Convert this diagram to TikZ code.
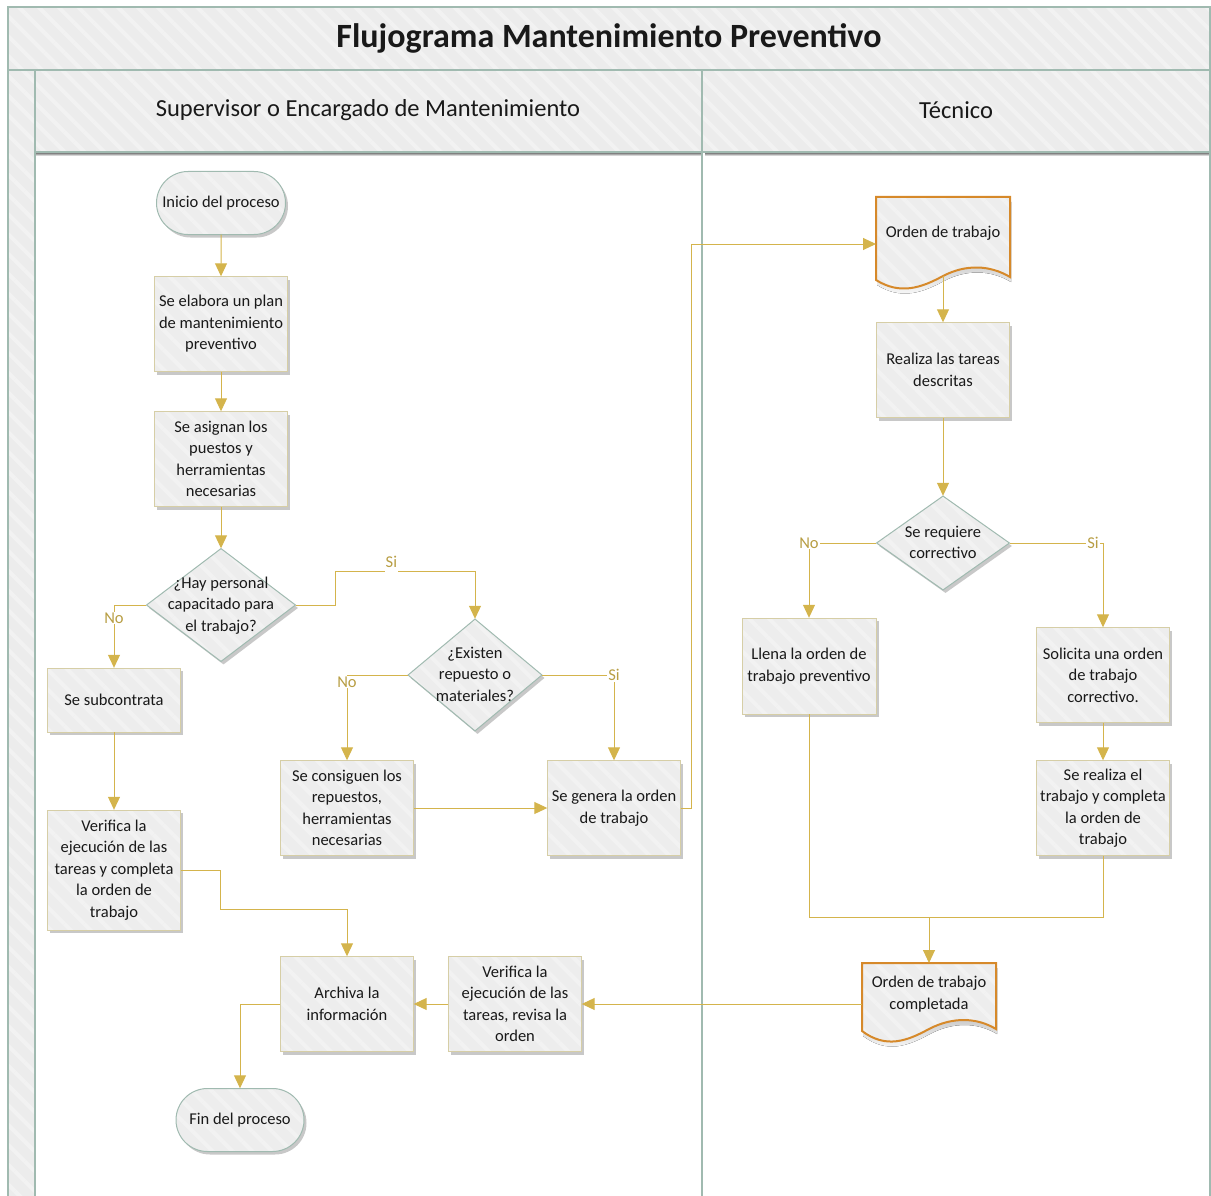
\documentclass[tikz,border=0pt]{standalone}
\usepackage{fontspec}
\setmainfont{Carlito}
\usetikzlibrary{shapes.geometric,shapes.misc,arrows.meta,shadows,patterns.meta,calc}

\definecolor{laneline}{RGB}{160,186,176}
\definecolor{bandfill}{RGB}{236,236,236}
\definecolor{stripe}{RGB}{242,242,242}
\definecolor{boxfill}{RGB}{237,237,237}
\definecolor{boxline}{RGB}{214,206,166}
\definecolor{flow}{RGB}{212,180,76}
\definecolor{flowtext}{RGB}{184,158,68}
\definecolor{docline}{RGB}{214,137,42}
\definecolor{shade}{RGB}{200,200,200}
\definecolor{ink}{RGB}{25,25,25}

% text for fixed-size diamonds: zero-size box so the shape keeps its dimensions
\newcommand{\dtext}[1]{\smash{\makebox[0pt]{\raisebox{-5pt}{\begin{tabular}{@{}c@{}}#1\end{tabular}}}}}

\begin{document}
\begin{tikzpicture}[x=1pt,y=-1pt,
  every node/.style={font=\fontsize{16.5}{21.5}\selectfont, text=ink},
  striped/.style={postaction={pattern={Lines[angle=-45,distance=14pt,line width=4pt]},pattern color=stripe}},
  band/.style={fill=bandfill, striped},
  lane/.style={draw=laneline, line width=2pt},
  soft/.style={drop shadow={shadow xshift=2.5pt,shadow yshift=-3pt,fill=shade,opacity=1}},
  proc/.style={rectangle, fill=boxfill, soft, striped, postaction={draw=boxline, line width=1pt},
    minimum width=133pt, minimum height=95pt, align=center, inner sep=2pt},
  term/.style={rounded rectangle, fill=boxfill, soft, striped, postaction={draw=laneline, line width=1pt},
    minimum width=133pt, minimum height=63pt, align=center, inner sep=2pt},
  decision/.style={diamond, fill=boxfill, soft, striped, postaction={draw=laneline, line width=1pt}, inner sep=0pt},
  conn/.style={draw=flow, line width=1pt, -{Triangle[width=12pt,length=13pt]}},
  link/.style={draw=flow, line width=1pt},
  lbl/.style={fill=white, text=flowtext, inner xsep=1pt, inner ysep=1pt},
]
\useasboundingbox (0,0) rectangle (1211,1196);

% ---- pool and lanes ----
\path[band] (8,7) rectangle (1210,70);
\path[band] (35,70) rectangle (1210,152);
\path[band] (8,70) rectangle (35,1196);
\fill[shade] (36,153) rectangle (701,156);
\fill[shade] (705,153) rectangle (1209,156);
\draw[lane] (8,1196) -- (8,7) -- (1210,7) -- (1210,1196);
\draw[lane] (8,70) -- (1210,70);
\draw[lane] (35,70) -- (35,1196);
\draw[lane] (35,152) -- (1210,152);
\draw[lane] (702,70) -- (702,1196);

\node[font=\fontsize{34}{40}\selectfont\bfseries] (title) at (609,38) {Flujograma Mantenimiento Preventivo};
\node[font=\fontsize{24.5}{30}\selectfont] (lane1) at (368,110) {Supervisor o Encargado de Mantenimiento};
\node[font=\fontsize{24.5}{30}\selectfont] (lane2) at (956,110) {Técnico};

% ---- supervisor lane ----
\node[term] (ini) at (221,203) {Inicio del proceso};
\node[proc] (plan) at (221,324) {Se elabora un plan\\de mantenimiento\\preventivo};
\node[proc] (asig) at (221,459) {Se asignan los\\puestos y\\herramientas\\necesarias};
\node[decision, minimum width=149pt, minimum height=113pt] (hay) at (221,605)
  {\dtext{¿Hay personal\\capacitado para\\el trabajo?}};
\node[proc, minimum height=64pt] (sub) at (114,700) {Se subcontrata};
\node[proc, minimum height=120pt] (ver1) at (114,870) {Verifica la\\ejecución de las\\tareas y completa\\la orden de\\trabajo};
\node[decision, minimum width=134pt, minimum height=112pt] (exi) at (475,675)
  {\dtext{¿Existen\\repuesto o\\materiales?}};
\node[proc] (cons) at (347,808) {Se consiguen los\\repuestos,\\herramientas\\necesarias};
\node[proc] (gen) at (614,808) {Se genera la orden\\de trabajo};
\node[proc] (arch) at (347,1004) {Archiva la\\información};
\node[proc] (ver2) at (515,1004) {Verifica la\\ejecución de las\\tareas, revisa la\\orden};
\node[term, minimum width=132pt] (fin) at (240,1120) {Fin del proceso};

% ---- technician lane ----
\begin{scope}[shift={(876,197)}]
  \begin{scope}[shift={(1,5)}]
    \fill[shade] (0,0) -- (134,0) -- (134,80) .. controls (114,68) and (90,67) .. (67,79)
      .. controls (45,91) and (24,98) .. (0,83) -- cycle;
  \end{scope}
  \path[fill=boxfill, striped, postaction={draw=docline, line width=2pt}]
    (0,0) -- (134,0) -- (134,80) .. controls (114,68) and (90,67) .. (67,79)
      .. controls (45,91) and (24,98) .. (0,83) -- cycle;
  \coordinate (od1-w) at (0,47);
  \coordinate (od1-s) at (67,79);
  \node (od1) at (67,36) {Orden de trabajo};
\end{scope}

\node[proc] (real) at (943,370) {Realiza las tareas\\descritas};
\node[decision, minimum width=133pt, minimum height=94pt] (req) at (943,543)
  {\dtext{Se requiere\\correctivo}};
\node[proc, minimum width=134pt, minimum height=96pt] (llena) at (809,666) {Llena la orden de\\trabajo preventivo};
\node[proc] (sol) at (1103,675) {Solicita una orden\\de trabajo\\correctivo.};
\node[proc] (serea) at (1103,808) {Se realiza el\\trabajo y completa\\la orden de\\trabajo};

\begin{scope}[shift={(862,963)}]
  \begin{scope}[shift={(1,5)}]
    \fill[shade] (0,0) -- (134,0) -- (134,66) .. controls (114,54) and (90,54) .. (67,66)
      .. controls (45,78) and (24,86) .. (0,68) -- cycle;
  \end{scope}
  \path[fill=boxfill, striped, postaction={draw=docline, line width=2pt}]
    (0,0) -- (134,0) -- (134,66) .. controls (114,54) and (90,54) .. (67,66)
      .. controls (45,78) and (24,86) .. (0,68) -- cycle;
  \coordinate (od2-w) at (0,41);
  \coordinate (od2-n) at (67,0);
  \node[align=center] (od2) at (67,31) {Orden de trabajo\\completada};
\end{scope}

\coordinate (merge) at (929,917);

% ---- connectors ----
\draw[conn] (ini) -- (plan);
\draw[conn] (plan) -- (asig);
\draw[conn] (asig) -- (hay);
\draw[conn] (hay.west) -| node[lbl, pos=0.5, yshift=-13pt] {No} (sub.north);
\draw[conn] (hay.east) -- ++(40,0) |- node[lbl, pos=0.7, anchor=base, yshift=4.5pt, inner ysep=5pt] {Si}
  ([yshift=47pt]exi.north) -- (exi.north);
\draw[conn] (exi.west) -| node[lbl, pos=0.5, yshift=-7pt] {No} (cons.north);
\draw[conn] (exi.east) -| node[lbl, pos=0.5] {Si} (gen.north);
\draw[conn] (cons) -- (gen);
\draw[conn] (gen.east) -- ++(11,0) |- (od1-w);
\draw[conn] (sub) -- (ver1);
\draw[conn] (ver1.east) -- ++(40,0) |- ([yshift=47pt]arch.north) -- (arch.north);
\draw[conn] (od1-s) -- (real);
\draw[conn] (real) -- (req);
\draw[conn] (req.west) -| node[lbl, pos=0.5] {No} (llena.north);
\draw[conn] (req.east) -| node[lbl, pos=0.5, xshift=-10pt] {Si} (sol.north);
\draw[conn] (sol) -- (serea);
\draw[link] (llena.south) |- (merge);
\draw[link] (serea.south) |- (merge);
\draw[conn] (merge) -- (od2-n);
\draw[conn] (od2-w) -- (ver2.east);
\draw[conn] (ver2) -- (arch);
\draw[conn] (arch.west) -| (fin.north);
\end{tikzpicture}
\end{document}
